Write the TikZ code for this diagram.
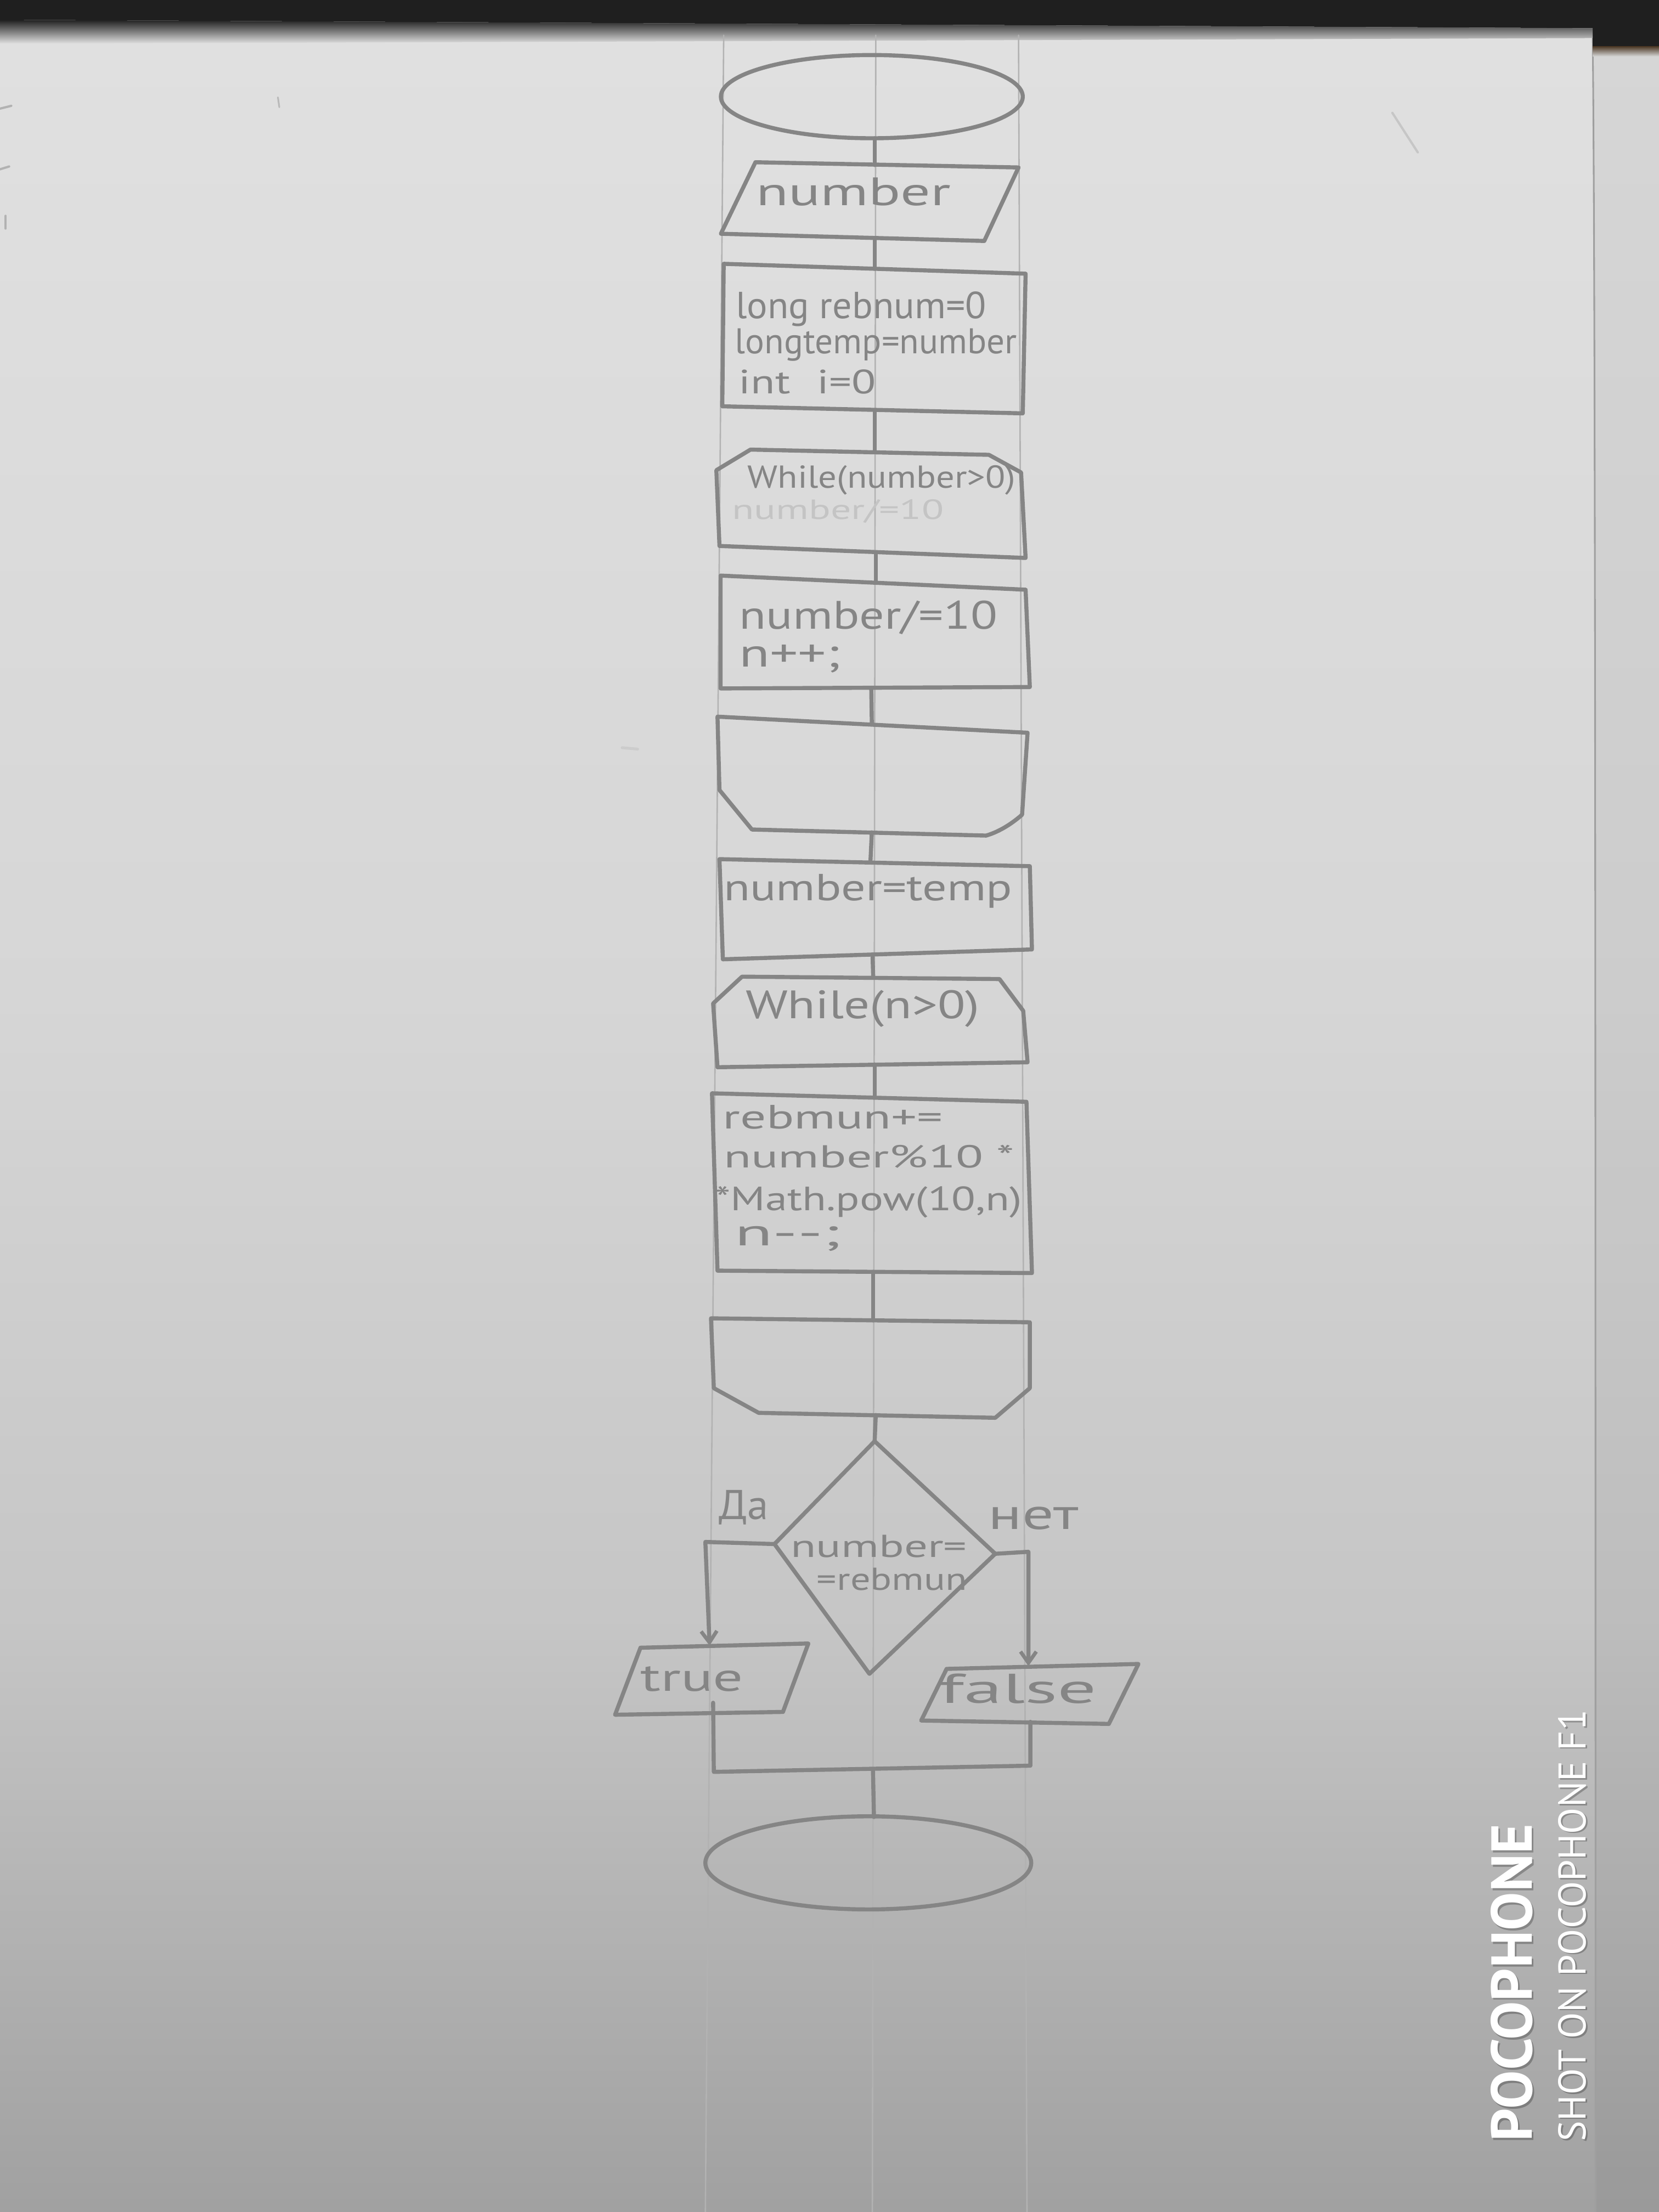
\documentclass[tikz,border=0pt]{standalone}
\usepackage{fontspec}
\usepackage{graphicx}
\setmainfont{PT Sans}
\usetikzlibrary{arrows.meta}
\newlength\pxu
\setlength\pxu{0.025cm}
% hand lettering: set at a size (pt), then stretched sideways to a width (picture units)
\newcommand\hw[3]{\resizebox{#1\pxu}{\height}{\fontsize{#2pt}{#2pt}\selectfont #3}}
% imprint lettering scaled to a width
\newcommand\iw[2]{\resizebox{#1\pxu}{!}{#2}}
\definecolor{pencil}{gray}{0.52}
\definecolor{erased}{gray}{0.77}
\definecolor{ruling}{gray}{0.70}
\definecolor{paperA}{gray}{0.88}
\definecolor{paperB}{gray}{0.84}
\definecolor{paperC}{gray}{0.775}
\definecolor{paperD}{gray}{0.63}
\definecolor{desk}{gray}{0.12}
\begin{document}
\begin{tikzpicture}[x=0.025cm,y=-0.025cm,line join=round,line cap=round,
  pen/.style={draw=pencil,line width=0.072cm},
  link/.style={pen},
  flow/.style={pen,-{Straight Barb[length=2mm,width=2.8mm,line width=0.065cm]}},
  txt/.style={text=pencil,inner sep=0pt,outer sep=0pt,anchor=base west},
  rule/.style={draw=ruling,line width=0.025cm},
  imprint/.style={text=white,inner sep=0pt,rotate=90},
  imprintshadow/.style={text=black,opacity=0.25,inner sep=0pt,rotate=90}]
\useasboundingbox (0,0) rectangle (1176,1568);

% sheet of paper on the desk
\shade[top color=paperA,bottom color=paperB] (0,0) rectangle (1176,700);
\shade[top color=paperB,bottom color=paperC] (0,700) rectangle (1176,1150);
\shade[top color=paperC,bottom color=paperD] (0,1150) rectangle (1176,1568);
\fill[black,opacity=0.045] (1130,30) -- (1176,30) -- (1176,1568) -- (1131,1568) .. controls (1131,800) and (1131,200) .. (1130,30) -- cycle;
\draw[draw=gray!75!white,line width=0.03cm] (1129,26) .. controls (1131,200) and (1131,800) .. (1131,1568);
\fill[desk] (0,0) -- (1176,0) -- (1176,33) -- (1129,33) -- (1129,20) -- (0,14) -- cycle;
\shade[top color=desk,bottom color=paperA] (0,14) -- (1129,20) -- (1129,27) -- (0,31) -- cycle;
\shade[top color=desk!70!brown,bottom color=paperA!95!black] (1129,33) rectangle (1176,40);

% pencil marks near the edges
\draw[draw=gray!60,line width=0.04cm] (0,77) -- (8,75);
\draw[draw=gray!60,line width=0.04cm] (0,120) -- (6.5,118);
\draw[draw=gray!60,line width=0.04cm] (4,153) -- (4,162);
\draw[draw=gray!45,line width=0.04cm] (987,80) -- (1005,108);
\draw[draw=gray!40,line width=0.05cm] (441,530) -- (452,531);
\draw[draw=gray!55,line width=0.03cm] (197,69) -- (198,76);

% ruled guide lines
\draw[rule] (513,25) -- (500,1568);
\draw[rule] (620.8,25) -- (618.4,1568);
\draw[rule] (722,25) -- (728,1568);

% ---- start
\draw[pen] (618,68.5) ellipse [x radius=107,y radius=29.5];
\coordinate (start-s) at (620,98);

% ---- input: number
\draw[pen] (535.5,115) -- (722,118.7) -- (697.7,170.8) -- (511,165.7) -- cycle;
\coordinate (in-n) at (620,117);
\coordinate (in-s) at (620,169);
\node[txt] (in-t) at (536,145.7) {\hw{138}{20}{number}};
\draw[link] (start-s) -- (in-n);

% ---- initialisation
\draw[pen] (513,187) -- (727,194) -- (725,293) -- (512,288) -- cycle;
\coordinate (init-n) at (620,190.5);
\coordinate (init-s) at (620,291);
\node[txt] (init-a) at (521.5,225.6) {\hw{177.6}{19}{long rebnum=0}};
\node[txt] (init-b) at (521,250.7) {\hw{200}{18}{longtemp=number}};
\node[txt] (init-c) at (523.8,279) {\hw{97}{17}{int\hspace{0.6em}i=0}};
\draw[link] (in-s) -- (init-n);

% ---- first loop
\draw[pen] (532,318.7) -- (701,322.4) -- (723.8,334.9) -- (727,395.5) -- (510,387) -- (507.8,333.3) -- cycle;
\coordinate (loop1-n) at (620,320.5);
\coordinate (loop1-s) at (620.8,391.5);
\node[txt] (loop1-t) at (530,346) {\hw{190}{16}{While(number>0)}};
\node[txt,text=erased] (loop1-x) at (519,368) {\hw{150}{14}{number/=10}};
\draw[link] (init-s) -- (loop1-n);

\draw[pen] (510.8,408) -- (727,418) -- (730,487) -- (510.8,488) -- cycle;
\coordinate (div-n) at (620.8,413);
\coordinate (div-s) at (617.6,487.5);
\node[txt] (div-a) at (524,446) {\hw{183}{20}{number/=10}};
\node[txt] (div-b) at (524,472.5) {\hw{72}{20}{n++;}};
\draw[link] (loop1-s) -- (div-n);

\draw[pen] (508.6,508) -- (728.4,519.4) -- (724.5,577.5) .. controls (716,585) and (707,590) .. (699,592.3) -- (533,588) -- (510,560) -- cycle;
\coordinate (end1-n) at (618,513);
\coordinate (end1-s) at (618,590);
\draw[link] (div-s) -- (end1-n);

% ---- restore number
\draw[pen] (510,609) -- (730,614) -- (731.5,673) -- (512.4,680) -- cycle;
\coordinate (rest-n) at (617,611);
\coordinate (rest-s) at (618.5,677);
\node[txt] (rest-t) at (513,638.4) {\hw{204.6}{19}{number=temp}};
\draw[link] (end1-s) -- (rest-n);

% ---- second loop
\draw[pen] (526,692.3) -- (708.5,694) -- (725.3,716.5) -- (728.4,753) -- (508.6,756.5) -- (505.5,711.3) -- cycle;
\coordinate (loop2-n) at (619,693);
\coordinate (loop2-s) at (620,754.5);
\node[txt] (loop2-t) at (528.5,721.9) {\hw{166}{20}{While(n>0)}};
\draw[link] (rest-s) -- (loop2-n);

\draw[pen] (504.7,775) -- (727.6,781) -- (731.5,902.4) -- (508.6,900.7) -- cycle;
\coordinate (acc-n) at (620,777.5);
\coordinate (acc-s) at (619,901.5);
\node[txt] (acc-a) at (512.5,800) {\hw{156}{17}{rebmun+=}};
\node[txt] (acc-b) at (513,827.8) {\hw{206}{16}{number\%10 *}};
\node[txt] (acc-c) at (507,858) {\hw{217.5}{17}{*Math.pow(10,n)}};
\node[txt] (acc-d) at (521,883) {\hw{75}{19}{n-{}-;}};
\draw[link] (loop2-s) -- (acc-n);

\draw[pen] (504,934.5) -- (730,937.3) -- (730,984) -- (705.5,1005) -- (537.8,1001.5) -- (506,984) -- cycle;
\coordinate (end2-n) at (619,936);
\coordinate (end2-s) at (620.8,1003);
\draw[link] (acc-s) -- (end2-n);

% ---- decision
\coordinate (dec-n) at (620,1021.6);
\coordinate (dec-e) at (705.5,1101.4);
\coordinate (dec-s) at (616.3,1186.5);
\coordinate (dec-w) at (549,1094.5);
\draw[pen] (dec-n) -- (dec-e) -- (dec-s) -- (dec-w) -- cycle;
\node[txt] (dec-a) at (560.5,1104) {\hw{125}{16}{number=}};
\node[txt] (dec-b) at (579,1127) {\hw{106.7}{16}{=rebmun}};
\draw[link] (end2-s) -- (dec-n);

% yes branch
\draw[pen] (454,1168) -- (573,1165) -- (555,1213.5) -- (436,1215.5) -- cycle;
\coordinate (yes-n) at (503,1166.5);
\coordinate (yes-s) at (505.5,1207);
\node[txt] (yes-t) at (454,1198.7) {\hw{73}{20}{true}};
\node[txt] (yes-l) at (509.7,1077) {\hw{35}{21}{Да}};
\draw[flow] (dec-w) -- (500,1093) -- (yes-n);

% no branch
\draw[pen] (671,1183) -- (807,1179.5) -- (786,1222) -- (653,1219.6) -- cycle;
\coordinate (no-n) at (729,1181);
\coordinate (no-s) at (730.4,1220.5);
\node[txt] (no-t) at (666,1207.4) {\hw{111.5}{21}{false}};
\node[txt] (no-l) at (700.6,1084) {\hw{64}{22}{нет}};
\draw[flow] (dec-e) -- (729,1100) -- (no-n);

% ---- join and stop
\coordinate (join) at (618.8,1254);
\coordinate (stop-n) at (619.5,1288);
\draw[pen] (yes-s) -- (506,1256) -- (730.4,1251.6) -- (no-s);
\draw[link] (join) -- (stop-n);
\draw[pen] (615.5,1320.5) ellipse [x radius=115.5,y radius=33];

% camera imprint
\node[imprintshadow] (brand-s) at (1073,1407) {\iw{225}{\bfseries POCOPHONE}};
\node[imprint] (brand) at (1071.5,1405.5) {\iw{225}{\bfseries POCOPHONE}};
\node[imprintshadow] (model-s) at (1115.5,1366) {\iw{306}{SHOT ON POCOPHONE F1}};
\node[imprint] (model) at (1114.5,1365) {\iw{306}{SHOT ON POCOPHONE F1}};
\end{tikzpicture}
\end{document}
